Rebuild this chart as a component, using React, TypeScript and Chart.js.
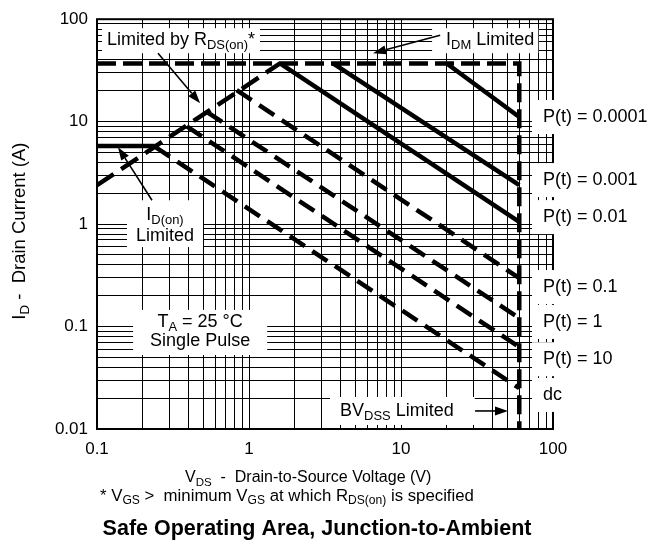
import { useEffect, useRef } from 'react';
import { Chart, registerables } from 'chart.js';

Chart.register(...registerables);

const FONT = '"Liberation Sans", Arial, Helvetica, sans-serif';

// ---- axis ticks ----
const xTickValues = [0.1, 1, 10, 100];
const xTickLabels = ['0.1', '1', '10', '100'];
const yTickValues = [0.01, 0.1, 1, 10, 100];
const yTickLabels = ['0.01', '0.1', '1', '10', '100'];

// ---- limit lines (V, A) ----
const idmBvV = [0.1, 60, 60];
const idmBvI = [37, 37, 0.01];
const rdsV = [0.1, 1.6];
const rdsI = [2.4, 37];
const idOnV = [0.1, 0.24];
const idOnI = [5.8, 5.8];

// ---- pulse curves ----
const pulseLabels = ['P(t) = 0.0001', 'P(t) = 0.001', 'P(t) = 0.01', 'P(t) = 0.1', 'P(t) = 1', 'P(t) = 10', 'dc'];
const pulseStartV = [20, 3.57, 1.6, 0.83, 0.53, 0.39, 0.24];
const pulseStartI = [37, 37, 37, 20.3, 12.4, 9.0, 5.7];
const pulseEndV = [60, 60, 60, 60, 60, 60, 60];
const pulseEndI = [11.1, 2.4, 1.05, 0.297, 0.121, 0.063, 0.025];
const pulseDashed = [false, false, false, true, true, true, true];
const pulseLabelI = [11.1, 2.69, 1.17, 0.243, 0.111, 0.048, 0.0215];
const pulseLabelV = 86;

type Seg = [string, boolean?];
interface Note {
  lines: Seg[][];
  x: number;
  y: number[];
  align: 'left' | 'center';
  pad: [number, number, number, number]; // left, right, top, bottom
}

const notes: Note[] = [
  { lines: [[['Limited by R'], ['DS(on)', true], ['*']]], x: 0.1163, y: [62.4], align: 'left', pad: [5, 5, 3, 4] },
  { lines: [[['I'], ['DM', true], [' Limited']]], x: 19.8, y: [62.4], align: 'left', pad: [14, 4, 3, 4] },
  { lines: [[['I'], ['D(on)', true]], [['Limited']]], x: 0.28, y: [1.22, 0.764], align: 'center', pad: [9, 9, 6, 2] },
  { lines: [[['T'], ['A', true], [' = 25 °C']], [['Single Pulse']]], x: 0.477, y: [0.111, 0.0723], align: 'center', pad: [17, 17, 3, 5] },
  { lines: [[['BV'], ['DSS', true], [' Limited']]], x: 3.97, y: [0.015], align: 'left', pad: [10, 21, 5, 5] },
  ...pulseLabels.map((t, i) => ({
    lines: [[[t] as Seg]],
    x: pulseLabelV,
    y: [pulseLabelI[i]],
    align: 'left' as const,
    pad: [11, 30, 8, 8] as [number, number, number, number],
  })),
];

// arrows: [fromV, fromI, toV, toI]
const arrows: number[][] = [
  [0.252, 46.6, 0.477, 15.1],
  [18.1, 69.8, 6.55, 46.6],
  [0.23, 1.71, 0.1375, 5.64],
  [30.7, 0.015, 50.6, 0.015],
];

const NOTE_SIZE = 18;

function gridValues(min: number, max: number) {
  const out: number[] = [];
  const e0 = Math.round(Math.log10(min));
  const e1 = Math.round(Math.log10(max));
  for (let e = e0; e < e1; e++) {
    for (let m = 1; m <= 9; m++) out.push(parseFloat((m * Math.pow(10, e)).toPrecision(6)));
  }
  out.push(max);
  return out;
}

function labelFor(values: number[], labels: string[]) {
  return (v: any) => {
    const n = Number(v);
    const i = values.findIndex((t) => Math.abs(t - n) / t < 1e-6);
    return i >= 0 ? labels[i] : '';
  };
}

function segFont(size: number, sub: boolean | undefined, bold: boolean) {
  return `${bold ? 'bold ' : ''}${sub ? size * 0.72 : size}px ${FONT}`;
}

function richWidth(ctx: CanvasRenderingContext2D, segs: Seg[], size: number, bold = false) {
  let w = 0;
  for (const [t, sub] of segs) {
    ctx.font = segFont(size, sub, bold);
    w += ctx.measureText(t).width;
  }
  return w;
}

function drawRich(ctx: CanvasRenderingContext2D, segs: Seg[], x: number, y: number, size: number, align: 'left' | 'center', bold = false) {
  const w = richWidth(ctx, segs, size, bold);
  let cx = align === 'center' ? x - w / 2 : x;
  ctx.textAlign = 'left';
  ctx.textBaseline = 'middle';
  ctx.fillStyle = '#000';
  for (const [t, sub] of segs) {
    ctx.font = segFont(size, sub, bold);
    ctx.fillText(t, cx, y + (sub ? size * 0.3 : 0));
    cx += ctx.measureText(t).width;
  }
}

function drawArrow(ctx: CanvasRenderingContext2D, x1: number, y1: number, x2: number, y2: number) {
  const ang = Math.atan2(y2 - y1, x2 - x1);
  const head = 13;
  const hw = 4.5;
  const bx = x2 - head * Math.cos(ang);
  const by = y2 - head * Math.sin(ang);
  ctx.strokeStyle = '#000';
  ctx.lineWidth = 1.6;
  ctx.beginPath();
  ctx.moveTo(x1, y1);
  ctx.lineTo(bx, by);
  ctx.stroke();
  ctx.fillStyle = '#000';
  ctx.beginPath();
  ctx.moveTo(x2, y2);
  ctx.lineTo(bx + hw * Math.sin(ang), by - hw * Math.cos(ang));
  ctx.lineTo(bx - hw * Math.sin(ang), by + hw * Math.cos(ang));
  ctx.closePath();
  ctx.fill();
}

function noteBox(ctx: CanvasRenderingContext2D, n: Note, xs: any, ys: any) {
  const px = xs.getPixelForValue(n.x);
  const pys = n.y.map((v) => ys.getPixelForValue(v));
  const widths = n.lines.map((l) => richWidth(ctx, l, NOTE_SIZE));
  const maxW = Math.max(...widths);
  const left = n.align === 'center' ? px - maxW / 2 : px;
  return {
    px,
    pys,
    x0: left - n.pad[0],
    x1: left + maxW + n.pad[1],
    y0: pys[0] - NOTE_SIZE / 2 - n.pad[2],
    y1: pys[pys.length - 1] + NOTE_SIZE / 2 + n.pad[3],
  };
}

const annotationPlugin = {
  id: 'soaAnnotations',
  beforeDatasetsDraw(chart: any) {
    const { ctx, chartArea: a, scales } = chart;
    ctx.save();
    ctx.strokeStyle = '#000';
    ctx.lineWidth = 2;
    ctx.strokeRect(a.left, a.top, a.right - a.left, a.bottom - a.top);
    ctx.fillStyle = '#fff';
    for (const n of notes) {
      const b = noteBox(ctx, n, scales.x, scales.y);
      ctx.fillRect(b.x0, b.y0, b.x1 - b.x0, b.y1 - b.y0);
    }
    ctx.restore();
  },
  afterDatasetsDraw(chart: any) {
    const { ctx, scales, chartArea: a } = chart;
    const xs = scales.x;
    const ys = scales.y;
    ctx.save();
    for (const n of notes) {
      const b = noteBox(ctx, n, xs, ys);
      n.lines.forEach((l, i) => drawRich(ctx, l, b.px, b.pys[i], NOTE_SIZE, n.align));
    }
    for (const [v1, i1, v2, i2] of arrows) {
      drawArrow(ctx, xs.getPixelForValue(v1), ys.getPixelForValue(i1), xs.getPixelForValue(v2), ys.getPixelForValue(i2));
    }
    // axis titles and captions
    const H = chart.height;
    ctx.save();
    ctx.translate(20, (a.top + a.bottom) / 2 + 7);
    ctx.rotate(-Math.PI / 2);
    drawRich(ctx, [['I'], ['D', true], [' -  Drain Current (A)']], 0, 0, 18.5, 'center');
    ctx.restore();
    drawRich(ctx, [['V'], ['DS', true], ['  -  Drain-to-Source Voltage (V)']], a.left + 88, H - 74, 16, 'left');
    drawRich(ctx, [['* V'], ['GS', true], [' >  minimum V'], ['GS', true], [' at which R'], ['DS(on)', true], [' is specified']], a.left + 3, H - 56, 16.8, 'left');
    drawRich(ctx, [['Safe Operating Area, Junction-to-Ambient']], (a.left + a.right) / 2 - 8, H - 23, 21.5, 'center', true);
    ctx.restore();
  },
};

export default function App() {
  const ref = useRef<HTMLCanvasElement>(null);
  useEffect(() => {
    document.body.style.margin = '0';
    const canvas = ref.current!;
    const pulseSets = pulseLabels.map((label, i) => ({
      label,
      data: [
        { x: pulseStartV[i], y: pulseStartI[i] },
        { x: pulseEndV[i], y: pulseEndI[i] },
      ],
      borderDash: pulseDashed[i] ? [18, 9] : [],
    }));
    const sets = [
      { label: 'IDM / BVDSS limit', data: idmBvV.map((v, i) => ({ x: v, y: idmBvI[i] })), borderDash: [19, 7] },
      { label: 'RDS(on) limit', data: rdsV.map((v, i) => ({ x: v, y: rdsI[i] })), borderDash: [20, 9] },
      { label: 'ID(on) limit', data: idOnV.map((v, i) => ({ x: v, y: idOnI[i] })), borderDash: [] },
      ...pulseSets,
    ].map((d) => ({
      ...d,
      showLine: true,
      borderColor: '#000',
      backgroundColor: '#000',
      borderWidth: 4.5,
      borderCapStyle: 'butt' as const,
      pointRadius: 0,
      fill: false,
      tension: 0,
    }));

    const chart = new Chart(canvas, {
      type: 'scatter',
      data: { datasets: sets as any },
      options: {
        animation: false,
        responsive: false,
        maintainAspectRatio: false,
        devicePixelRatio: 1,
        layout: { padding: { left: 0, top: 19, right: 97, bottom: 0 } },
        plugins: { legend: { display: false }, tooltip: { enabled: false }, title: { display: false } },
        scales: {
          x: {
            type: 'logarithmic',
            min: 0.1,
            max: 100,
            afterBuildTicks: (s: any) => {
              s.ticks = gridValues(0.1, 100).map((v) => ({ value: v }));
            },
            afterFit: (s: any) => {
              s.height = 123;
            },
            ticks: {
              autoSkip: false,
              maxRotation: 0,
              minRotation: 0,
              padding: 10,
              color: '#000',
              font: { family: FONT, size: 17 },
              callback: labelFor(xTickValues, xTickLabels),
            },
            grid: { color: '#000', lineWidth: 1, drawTicks: false },
            border: { display: false },
          },
          y: {
            type: 'logarithmic',
            min: 0.01,
            max: 100,
            afterBuildTicks: (s: any) => {
              s.ticks = gridValues(0.01, 100).map((v) => ({ value: v }));
            },
            afterFit: (s: any) => {
              s.width = 97;
            },
            ticks: {
              autoSkip: false,
              padding: 9,
              color: '#000',
              font: { family: FONT, size: 17 },
              callback: labelFor(yTickValues, yTickLabels),
            },
            grid: { color: '#000', lineWidth: 1, drawTicks: false },
            border: { display: false },
          },
        },
      },
      plugins: [annotationPlugin],
    });
    return () => chart.destroy();
  }, []);

  return (
    <div style={{ width: 650, height: 552, background: '#fff' }}>
      <canvas ref={ref} width={650} height={552} style={{ display: 'block' }} />
    </div>
  );
}
